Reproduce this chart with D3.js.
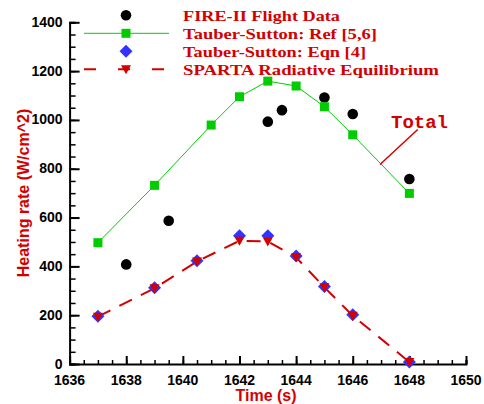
<!DOCTYPE html>
<html><head><meta charset="utf-8">
<script src="https://cdn.jsdelivr.net/npm/d3@7"></script>
<style>body{margin:0;background:#fff}</style>
</head><body>
<svg id="c" width="484" height="404"></svg>
<script>
const fireT = [1638, 1639.5, 1643, 1643.5, 1645, 1646, 1648];
const fireV = [408, 587, 993, 1040, 1092, 1024, 758];
const refT = [1637, 1639, 1641, 1642, 1643, 1644, 1645, 1646, 1648];
const refV = [497, 732, 979, 1095, 1159, 1139, 1054, 939, 699];
const eqnT = [1637, 1639, 1640.5, 1642, 1643, 1644, 1645, 1646, 1648];
const eqnV = [196, 312, 423, 525, 525, 442, 318, 202, 8];
const spT = [1637, 1639, 1640.5, 1642, 1643, 1644, 1645, 1646, 1648];
const spV = [194, 310, 420, 505, 502, 437, 314, 198, 8];
const xTicks = [1636, 1638, 1640, 1642, 1644, 1646, 1648, 1650];
const yTicks = [0, 200, 400, 600, 800, 1000, 1200, 1400];
const legendLabels = ["FIRE-II Flight Data", "Tauber-Sutton: Ref [5,6]", "Tauber-Sutton: Eqn [4]", "SPARTA Radiative Equilibrium"];

const svg = d3.select("#c");
const x = d3.scaleLinear().domain([1636, 1650]).range([69.6, 466]);
const y = d3.scaleLinear().domain([0, 1400]).range([364, 22.3]);
const RED = "#d40000", GREEN = "#00cc00", BLUE = "#3333ff";
const SANS = "Arial, 'Liberation Sans', sans-serif";

// axes
const gx = svg.append("g").attr("transform", `translate(0,${y(0)})`);
gx.call(d3.axisTop(x).tickValues(d3.range(1636, 1650.01, 0.5)).tickSize(4).tickFormat(""));
gx.call(g => g.selectAll(".tick line").attr("stroke", "#000").attr("stroke-width", 1.5));
gx.append("g").call(d3.axisTop(x).tickValues(xTicks).tickSize(8).tickFormat(""))
  .call(g => g.selectAll(".tick line").attr("stroke", "#000").attr("stroke-width", 2))
  .call(g => g.select(".domain").remove());
gx.select(".domain").attr("stroke", "#000").attr("stroke-width", 2);
gx.selectAll(".xl").data(xTicks).enter().append("text")
  .attr("x", d => x(d)).attr("y", 20.5).attr("text-anchor", "middle")
  .attr("font-family", SANS).attr("font-weight", "bold").attr("font-size", 14)
  .attr("fill", "#000").text(d => d);

const gy = svg.append("g").attr("transform", `translate(${x(1636)},0)`);
gy.call(d3.axisRight(y).tickValues(d3.range(0, 1400.1, 50)).tickSize(6).tickFormat(""));
gy.call(g => g.selectAll(".tick line").attr("stroke", "#000").attr("stroke-width", 1.5));
gy.append("g").call(d3.axisRight(y).tickValues(yTicks).tickSize(10).tickFormat(""))
  .call(g => g.selectAll(".tick line").attr("stroke", "#000").attr("stroke-width", 2))
  .call(g => g.select(".domain").remove());
gy.select(".domain").attr("stroke", "#000").attr("stroke-width", 2);
gy.selectAll(".yl").data(yTicks).enter().append("text")
  .attr("x", -7).attr("y", d => y(d) + 4.5).attr("text-anchor", "end")
  .attr("font-family", SANS).attr("font-weight", "bold").attr("font-size", 14)
  .attr("fill", "#000").text(d => d);

// axis titles
svg.append("text").attr("transform", "translate(28.5,193) rotate(-90)").attr("text-anchor", "middle")
  .attr("font-family", SANS).attr("font-weight", "bold").attr("font-size", 16)
  .attr("fill", RED).text("Heating rate (W/cm^2)");
svg.append("text").attr("x", 266).attr("y", 401).attr("text-anchor", "middle")
  .attr("font-family", SANS).attr("font-weight", "bold").attr("font-size", 16)
  .attr("fill", RED).text("Time (s)");

// lines
const line = d3.line().x(d => x(d[0])).y(d => y(d[1]));
const refData = refT.map((t, i) => [t, refV[i]]);
const spData = spT.map((t, i) => [t, spV[i]]);
svg.append("path").datum(refData).attr("d", line).attr("fill", "none").attr("stroke", GREEN).attr("stroke-width", 1);
svg.append("path").datum(spData).attr("d", line).attr("fill", "none").attr("stroke", RED).attr("stroke-width", 2)
  .attr("stroke-dasharray", "14,10");

// markers
const diamond = "M0,-6.5L6.5,0L0,6.5L-6.5,0Z";
const tri = "M-5,-4L5,-4L0,5Z";
svg.append("g").selectAll("circle").data(fireT.map((t, i) => [t, fireV[i]])).enter().append("circle")
  .attr("cx", d => x(d[0])).attr("cy", d => y(d[1])).attr("r", 5.3).attr("fill", "#000");
svg.append("g").selectAll("rect").data(refData).enter().append("rect")
  .attr("x", d => x(d[0]) - 4.5).attr("y", d => y(d[1]) - 4.5).attr("width", 9).attr("height", 9).attr("fill", GREEN);
svg.append("g").selectAll("path").data(eqnT.map((t, i) => [t, eqnV[i]])).enter().append("path")
  .attr("transform", d => `translate(${x(d[0])},${y(d[1])})`).attr("d", diamond).attr("fill", BLUE);
svg.append("g").selectAll("path").data(spData).enter().append("path")
  .attr("transform", d => `translate(${x(d[0])},${y(d[1])})`).attr("d", tri).attr("fill", RED);

// legend
const lg = svg.append("g");
const rows = [15.3, 33.3, 51.3, 69.3];
const widths = [157, 194, 183, 256];
const mx = 126;
lg.append("circle").attr("cx", mx).attr("cy", rows[0]).attr("r", 5.3).attr("fill", "#000");
lg.append("line").attr("x1", 84).attr("x2", 169).attr("y1", rows[1]).attr("y2", rows[1]).attr("stroke", GREEN).attr("stroke-width", 1);
lg.append("rect").attr("x", mx - 4.5).attr("y", rows[1] - 4.5).attr("width", 9).attr("height", 9).attr("fill", GREEN);
lg.append("path").attr("transform", `translate(${mx},${rows[2]})`).attr("d", diamond).attr("fill", BLUE);
lg.append("line").attr("x1", 84).attr("x2", 169).attr("y1", rows[3]).attr("y2", rows[3]).attr("stroke", RED).attr("stroke-width", 2).attr("stroke-dasharray", "12,22");
lg.append("path").attr("transform", `translate(${mx},${rows[3]})`).attr("d", tri).attr("fill", RED);
lg.selectAll("text").data(legendLabels).enter().append("text")
  .attr("x", 183).attr("y", (d, i) => rows[i] + 5.5)
  .attr("font-family", "'Liberation Serif', 'Times New Roman', serif").attr("font-weight", "bold").attr("font-size", 15.5)
  .attr("textLength", (d, i) => widths[i]).attr("lengthAdjust", "spacingAndGlyphs")
  .attr("fill", RED).text(d => d);

// annotation
svg.append("line").attr("x1", 417.7).attr("y1", 129.5).attr("x2", 380).attr("y2", 164.5).attr("stroke", RED).attr("stroke-width", 1.5);
svg.append("text").attr("x", 391).attr("y", 128)
  .attr("font-family", "'Liberation Mono', 'Courier New', monospace").attr("font-weight", "bold").attr("font-size", 19)
  .attr("fill", RED).text("Total");
</script>
</body></html>
